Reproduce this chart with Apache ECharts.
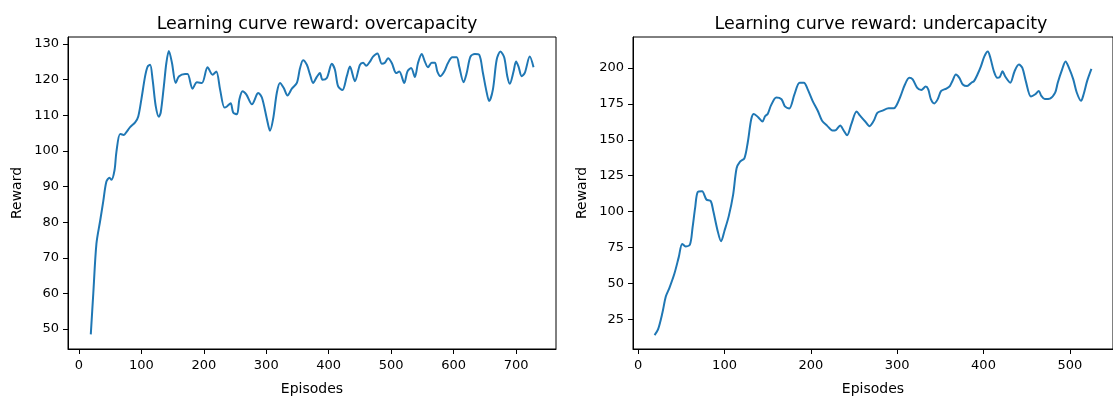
<!DOCTYPE html>
<html>
<head>
<meta charset="utf-8">
<title>Learning curve reward</title>
<script src="https://cdn.jsdelivr.net/npm/echarts@6/dist/echarts.min.js"></script>
<style>
  html, body { margin: 0; padding: 0; background: #fff; }
  #chart { width: 1113px; height: 401px; }
</style>
</head>
<body>
<div id="chart"></div>
<script>
// Smoothed reward per episode, overcapacity run
const overEpisodes = [19, 23, 28, 34, 39, 44, 49, 52, 57, 60, 66, 72, 76, 82, 90, 95, 100, 106, 110, 114,
  118, 123, 128, 131, 136, 140, 144, 149, 155, 160, 170, 174, 182, 189, 197, 206, 214, 220, 226, 233,
  237, 243, 247, 253, 257, 262, 268, 277, 285, 287, 293, 301, 306, 311, 317, 322, 328, 334, 341, 349,
  354, 359, 365, 370, 375, 381, 386, 390, 397, 405, 410, 415, 422, 429, 434, 442, 450, 455, 460, 466,
  471, 478, 485, 490, 495, 501, 508, 513, 521, 526, 532, 538, 543, 549, 554, 559, 565, 570, 574, 579,
  585, 591, 598, 605, 609, 616, 621, 627, 634, 641, 647, 652, 657, 663, 669, 675, 681, 686, 690, 696,
  700, 704, 709, 714, 722, 728];
const overRewards = [48.5, 60.0, 73.9, 80.4, 85.9, 91.4, 92.5, 91.9, 94.6, 99.7, 104.8, 104.5, 105.3, 106.7, 108.0, 109.7, 114.5, 121.0, 123.7, 124.2,
  120.0, 112.6, 109.6, 110.8, 118.2, 124.7, 128.1, 124.7, 119.1, 120.9, 121.6, 121.6, 117.5, 119.3, 119.1, 123.5, 121.4, 122.3, 117.3, 112.2,
  112.5, 113.4, 110.8, 110.3, 114.5, 116.8, 115.9, 113.1, 115.9, 116.3, 115.0, 109.0, 105.7, 109.0, 116.4, 119.1, 117.7, 115.6, 117.5, 119.1,
  123.2, 125.5, 124.2, 121.5, 119.1, 120.8, 121.9, 120.0, 120.5, 124.5, 122.8, 118.2, 117.1, 121.0, 123.7, 119.6, 124.2, 124.8, 123.9, 125.1,
  126.5, 127.4, 124.5, 124.8, 126.0, 124.7, 121.9, 122.3, 119.1, 122.3, 123.3, 120.8, 124.7, 127.2, 125.1, 123.5, 124.8, 124.8, 122.3, 121.0,
  122.3, 124.7, 126.3, 126.3, 123.7, 119.3, 121.9, 126.5, 127.2, 127.0, 121.9, 117.3, 114.0, 117.3, 125.6, 127.9, 126.3, 121.0, 118.9, 122.3,
  125.1, 123.7, 121.0, 121.9, 126.5, 123.5];

// Smoothed reward per episode, undercapacity run
const underEpisodes = [19, 23, 28, 32, 36, 42, 47, 51, 55, 60, 63, 66, 69, 74, 79, 84, 87, 92, 96, 100,
  105, 110, 114, 118, 123, 127, 131, 134, 139, 144, 147, 150, 154, 160, 166, 170, 175, 181, 187, 192,
  196, 202, 208, 213, 219, 225, 229, 234, 238, 242, 247, 253, 257, 263, 268, 273, 277, 283, 290, 296,
  299, 304, 309, 314, 318, 323, 328, 333, 336, 339, 343, 347, 351, 357, 361, 364, 368, 372, 376, 381,
  386, 389, 393, 397, 401, 405, 408, 412, 416, 419, 422, 425, 431, 436, 441, 445, 449, 455, 460, 464,
  467, 471, 477, 483, 486, 491, 495, 499, 504, 508, 513, 516, 520, 525];
const underRewards = [14.2, 18.1, 29.5, 41.0, 46.7, 57.0, 68.4, 77.6, 75.8, 77.2, 89.0, 102.8, 113.7, 114.2, 108.5, 107.4, 100.5, 86.8, 79.4, 86.8,
  97.1, 111.9, 130.2, 134.8, 137.1, 148.5, 164.5, 168.0, 165.7, 162.7, 166.4, 168.0, 174.1, 179.4, 178.2, 173.2, 171.8, 181.6, 189.7, 189.7,
  185.6, 177.1, 170.2, 163.3, 159.7, 156.5, 156.8, 159.9, 156.5, 153.1, 161.1, 169.6, 166.8, 162.7, 159.5, 163.4, 168.7, 170.3, 171.9, 171.9,
  173.7, 180.5, 188.5, 193.1, 192.0, 186.3, 184.6, 187.0, 185.1, 178.3, 175.3, 178.3, 184.0, 185.6, 187.4, 190.9, 195.4, 193.1, 188.5, 187.4,
  189.7, 190.8, 195.4, 201.1, 208.0, 211.4, 206.9, 197.7, 193.1, 193.8, 197.7, 194.2, 189.7, 197.7, 202.3, 200.0, 190.8, 180.1, 181.7, 184.0,
  180.5, 178.3, 178.7, 182.8, 189.7, 198.8, 204.5, 200.0, 192.0, 182.9, 177.1, 181.7, 190.8, 199.3];

const episodeTicks = { over: [0, 100, 200, 300, 400, 500, 600, 700], under: [0, 100, 200, 300, 400, 500] };
const rewardTicks = { over: [50, 60, 70, 80, 90, 100, 110, 120, 130], under: [25, 50, 75, 100, 125, 150, 175, 200] };

const titles = ['Learning curve reward: overcapacity', 'Learning curve reward: undercapacity'];

const FONT = 'DejaVu Sans';
const INK = '#000';
const LINE = '#1f77b4';

function pairs(xs, ys) { return xs.map((x, i) => [x, ys[i]]); }

function xAxisFor(idx, min, max, ticks) {
  return {
    type: 'value', gridIndex: idx, min: min, max: max,
    name: 'Episodes', nameLocation: 'middle', nameGap: 33,
    nameTextStyle: { fontFamily: FONT, fontSize: 14, color: INK },
    splitLine: { show: false },
    axisLine: { show: true, onZero: false, lineStyle: { color: INK, width: 1 } },
    axisTick: { show: true, length: 5, customValues: ticks, lineStyle: { color: INK, width: 1 } },
    axisLabel: { customValues: ticks, margin: 10, fontFamily: FONT, fontSize: 13, color: INK }
  };
}

function yAxisFor(idx, min, max, ticks) {
  return {
    type: 'value', gridIndex: idx, min: min, max: max,
    name: 'Reward', nameLocation: 'middle', nameGap: 44, nameRotate: 90,
    nameTextStyle: { fontFamily: FONT, fontSize: 14, color: INK },
    splitLine: { show: false },
    axisLine: { show: true, onZero: false, lineStyle: { color: INK, width: 1 } },
    axisTick: { show: true, length: 5, customValues: ticks, lineStyle: { color: INK, width: 1 } },
    axisLabel: { customValues: ticks, margin: 9, fontFamily: FONT, fontSize: 13, color: INK }
  };
}

const chart = echarts.init(document.getElementById('chart'), null, { renderer: 'canvas' });

chart.setOption({
  animation: false,
  backgroundColor: '#fff',
  title: [
    { text: titles[0], left: 312, top: 10, textAlign: 'center',
      textStyle: { fontFamily: FONT, fontSize: 17.5, fontWeight: 'normal', color: INK } },
    { text: titles[1], left: 876, top: 10, textAlign: 'center',
      textStyle: { fontFamily: FONT, fontSize: 17.5, fontWeight: 'normal', color: INK } }
  ],
  grid: [
    { left: 68, width: 488, top: 37, height: 316, show: true, borderColor: INK, borderWidth: 1, backgroundColor: 'transparent' },
    { left: 633, width: 486, top: 37, height: 316, show: true, borderColor: INK, borderWidth: 1, backgroundColor: 'transparent' }
  ],
  xAxis: [
    xAxisFor(0, -17.5, 764, episodeTicks.over),
    xAxisFor(1, -6, 550, episodeTicks.under)
  ],
  yAxis: [
    yAxisFor(0, 44.4, 132.0, rewardTicks.over),
    yAxisFor(1, 4.5, 221.5, rewardTicks.under)
  ],
  series: [
    { type: 'line', xAxisIndex: 0, yAxisIndex: 0, data: pairs(overEpisodes, overRewards),
      showSymbol: false, smooth: 0.3, lineStyle: { color: LINE, width: 2 } },
    { type: 'line', xAxisIndex: 1, yAxisIndex: 1, data: pairs(underEpisodes, underRewards),
      showSymbol: false, smooth: 0.3, lineStyle: { color: LINE, width: 2 } }
  ]
});
</script>
</body>
</html>
